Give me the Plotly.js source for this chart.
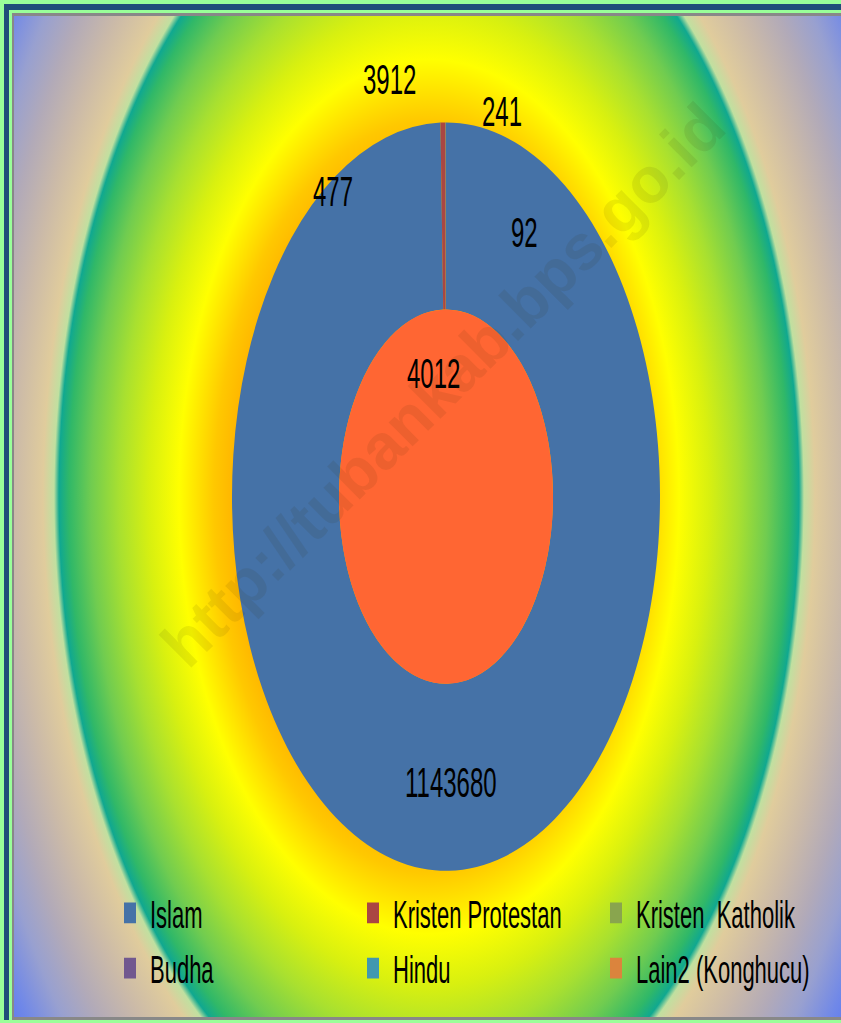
<!DOCTYPE html>
<html>
<head>
<meta charset="utf-8">
<script src="https://cdn.plot.ly/plotly-3.0.1.min.js"></script>
<style>
  html, body { margin:0; padding:0; width:841px; height:1023px; overflow:hidden; background:#99ff99; }
  #chart {
    position:absolute; left:0; top:0; width:900px; height:585px;
    transform: scaleY(1.7487); transform-origin: 0 0;
    background: radial-gradient(circle at 429px 284px,
      #ffa000 0px, #ffb000 190px, #ffc800 215px, #ffff00 250px,
      #d8f010 280px, #a8e030 310px, #70cc50 338px, #30b868 360px,
      #10a890 370px, #c0e0a0 375px, #e0cc9c 386px, #cbbaa8 415px,
      #b2aab8 445px, #98a0d0 472px, #7088e8 500px, #4c6cf8 535px);
  }
  .strip { position:absolute; pointer-events:none; }
  #wm {
    position:absolute; left:443px; top:385px;
    transform: translate(-50%, -50%) rotate(-45deg);
    font: bold 64px "Liberation Sans", Arial, sans-serif;
    color: rgba(60,40,0,0.09); white-space:nowrap; pointer-events:none;
  }
</style>
</head>
<body>
<div id="chart"></div>
<div id="wm">http://tubankab.bps.go.id</div>
<div class="strip" style="left:0;top:0;width:841px;height:4px;background:#99ff99"></div>
<div class="strip" style="left:4px;top:4px;width:837px;height:6px;background:#1f4e79"></div>
<div class="strip" style="left:9px;top:10px;width:832px;height:3px;background:#99ff99"></div>
<div class="strip" style="left:12px;top:13px;width:829px;height:3px;background:#888888"></div>
<div class="strip" style="left:0;top:0;width:4px;height:1023px;background:#99ff99"></div>
<div class="strip" style="left:4px;top:4px;width:5px;height:1016px;background:#1f4e79"></div>
<div class="strip" style="left:9px;top:10px;width:3px;height:1010px;background:#99ff99"></div>
<div class="strip" style="left:12px;top:13px;width:2px;height:1007px;background:#888888"></div>
<div class="strip" style="left:12px;top:1017px;width:829px;height:3px;background:#888888"></div>
<div class="strip" style="left:0;top:1020px;width:841px;height:3px;background:#99ff99"></div>
<script>
// ---- data ----
const categories   = ['Islam', 'Kristen Protestan', 'Kristen  Katholik', 'Budha', 'Hindu', 'Lain2 (Konghucu)'];
const ringValues   = [1143680, 3912, 241, 477, 92, 0];
const labelValues  = [1143680, 3912, 241, 477, 92, 4012];
const centreValue  = [4012];

// ---- styles / positions ----
const sliceColors = ['#4572A7', '#AA4643', '#89A54E', '#71588F', '#4198AF', '#DB843D'];
const centreColor = '#FF6633';
const W = 900, H = 585;            // virtual plot size (stretched vertically by CSS)
const labelAnchors = [             // [x px, y px] in virtual space
  [451, 447.8], [389, 45.2], [502, 63.9], [333, 109.2], [524, 133.0], [433, 213.3]
];
const FONT = '"Liberation Sans", Arial, sans-serif';

const ring = {
  type: 'pie', labels: categories, values: ringValues,
  hole: 0.5, sort: false, direction: 'clockwise', rotation: 0,
  textinfo: 'none', hoverinfo: 'none',
  marker: { colors: sliceColors, line: { width: 0 } },
  domain: { x: [232 / W, 660 / W], y: [(H - 498) / H, (H - 70) / H] },
  showlegend: true
};
const centre = {
  type: 'pie', labels: [categories[5]], values: centreValue,
  sort: false, textinfo: 'none', hoverinfo: 'none',
  marker: { colors: [centreColor], line: { width: 0 } },
  domain: { x: [339 / W, 553 / W], y: [(H - 391) / H, (H - 177) / H] },
  showlegend: false
};

const annotations = labelValues.map((v, i) => ({
  text: String(v), showarrow: false,
  xref: 'paper', yref: 'paper',
  x: labelAnchors[i][0] / W, y: 1 - labelAnchors[i][1] / H,
  xanchor: 'center', yanchor: 'middle',
  font: { family: FONT, size: 24, color: '#000000' }
}));

const layout = {
  width: W, height: H,
  margin: { l: 0, r: 0, t: 0, b: 0, pad: 0, autoexpand: false },
  paper_bgcolor: 'rgba(0,0,0,0)', plot_bgcolor: 'rgba(0,0,0,0)',
  showlegend: true,
  legend: {
    orientation: 'h', x: 110 / W, xanchor: 'left', y: 0.1432, yanchor: 'top',
    entrywidth: 198, entrywidthmode: 'pixels', traceorder: 'normal',
    bgcolor: 'rgba(0,0,0,0)', borderwidth: 0,
    font: { family: FONT, size: 22, color: '#000000' }
  },
  annotations: annotations
};

Plotly.newPlot('chart', [ring, centre], layout, { staticPlot: true, displayModeBar: false });
</script>
</body>
</html>
